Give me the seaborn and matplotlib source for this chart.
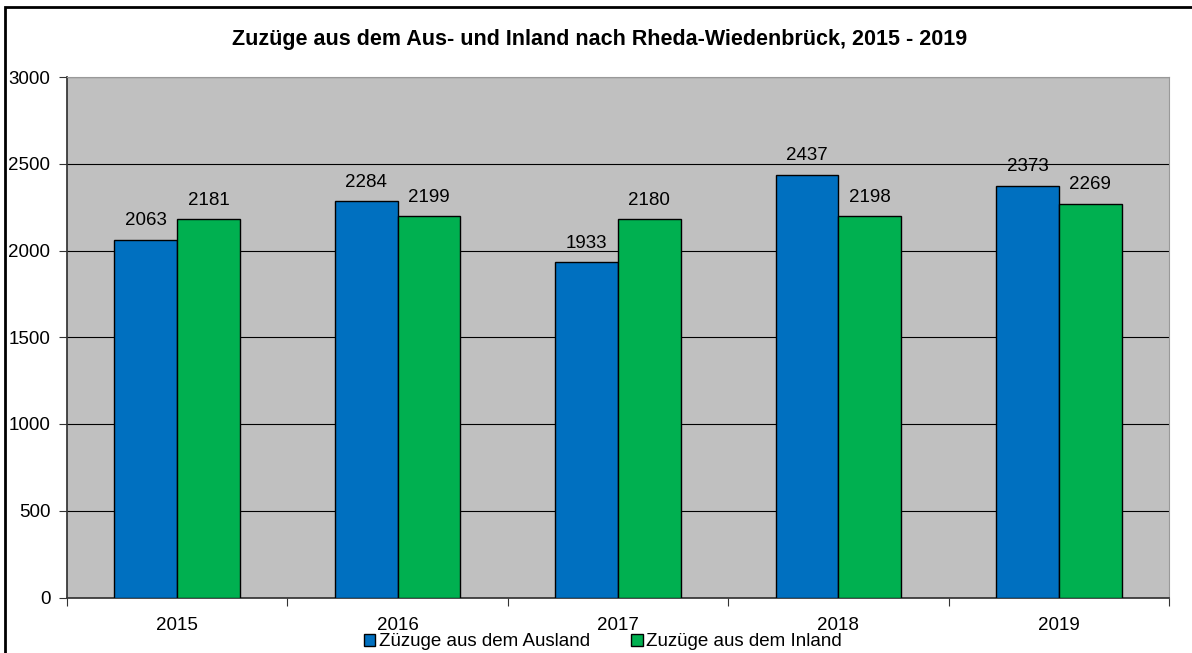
import matplotlib
matplotlib.use("Agg")
import matplotlib.pyplot as plt
import pandas as pd
import seaborn as sns
from matplotlib.patches import Rectangle
from matplotlib.ticker import MultipleLocator

years = ["2015", "2016", "2017", "2018", "2019"]
ausland = [2063, 2284, 1933, 2437, 2373]
inland = [2181, 2199, 2180, 2198, 2269]
series_names = ["Züzuge aus dem Ausland", "Zuzüge aus dem Inland"]
title = "Zuzüge aus dem Aus- und Inland nach Rheda-Wiedenbrück, 2015 - 2019"

df = pd.DataFrame({
    "Jahr": years * 2,
    "Wert": ausland + inland,
    "Serie": [series_names[0]] * len(years) + [series_names[1]] * len(years),
})

sns.set_theme(style="white")
plt.rcParams["font.family"] = ["Liberation Sans", "DejaVu Sans"]
plt.rcParams["text.color"] = "black"
plt.rcParams["xtick.color"] = "black"
plt.rcParams["ytick.color"] = "black"

W, H = 1192, 653
FS = 13.5
fig = plt.figure(figsize=(W / 100, H / 100), dpi=100)
ax = fig.add_axes([67 / W, (H - 597.5) / H, (1169 - 67) / W, (597.5 - 77) / H])

palette = {series_names[0]: "#0070C0", series_names[1]: "#00B050"}
sns.barplot(data=df, x="Jahr", y="Wert", hue="Serie", palette=palette,
            width=0.57, edgecolor="black", linewidth=1.0, saturation=1,
            ax=ax, zorder=3)

ax.set_facecolor("#C0C0C0")
ax.set_ylim(0, 3000)
ax.set_xlim(-0.5, len(years) - 0.5)
ax.yaxis.set_major_locator(MultipleLocator(500))
ax.grid(axis="y", color="black", linewidth=0.8, zorder=1)
ax.set_axisbelow(True)
ax.set_xlabel("")
ax.set_ylabel("")

for side in ["top", "right"]:
    ax.spines[side].set_color("#999999")
    ax.spines[side].set_linewidth(0.8)
ax.spines["left"].set_color("#333333")
ax.spines["bottom"].set_color("#333333")

ax.tick_params(axis="y", which="major", direction="out", length=6, width=0.8,
               color="#333333", labelsize=FS, pad=6, left=True)
ax.tick_params(axis="x", which="major", length=0, labelsize=FS, pad=14)
ax.set_xticks([i - 0.5 for i in range(len(years) + 1)], minor=True)
ax.tick_params(axis="x", which="minor", direction="out", length=6, width=0.8,
               color="#333333", bottom=True)

for cont in ax.containers:
    ax.bar_label(cont, fmt="%d", padding=7.5, fontsize=FS, color="black")

handles, labels = ax.get_legend_handles_labels()
if ax.legend_:
    ax.legend_.remove()
fig.legend(handles, labels, loc="center", bbox_to_anchor=(603 / W, 1 - 642 / H),
           ncol=2, frameon=False, fontsize=FS, handlelength=0.6,
           handleheight=0.6, handletextpad=0.2, columnspacing=2.2,
           borderaxespad=0, labelcolor="black")

fig.text(600 / W, 1 - 40 / H, title, ha="center", va="center",
         fontsize=15.5, fontweight="bold", color="black")

fig.patches.append(Rectangle((5 / W, -0.05), 1.2, 1 - 7 / H + 0.05,
                             transform=fig.transFigure, fill=False,
                             edgecolor="black", linewidth=2, zorder=0))

fig.savefig("out.png", dpi=100)
